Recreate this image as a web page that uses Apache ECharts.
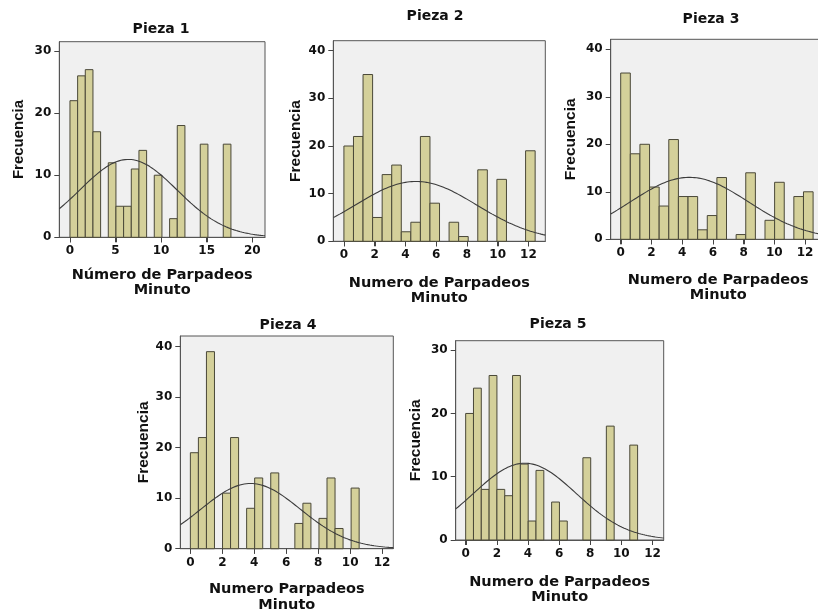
<!DOCTYPE html>
<html>
<head>
<meta charset="utf-8">
<script src="https://cdn.jsdelivr.net/npm/echarts@6/dist/echarts.min.js"></script>
<style>
html,body{margin:0;padding:0;background:#ffffff;overflow:hidden;}
#chart{width:818px;height:614px;}
</style>
</head>
<body>
<div id="chart"></div>
<script>
// ---- Data ----
const titles = ['Pieza 1', 'Pieza 2', 'Pieza 3', 'Pieza 4', 'Pieza 5'];
const xNames = [
  'Número de Parpadeos\nMinuto',
  'Numero de Parpadeos\nMinuto',
  'Numero de Parpadeos\nMinuto',
  'Numero Parpadeos\nMinuto',
  'Numero de Parpadeos\nMinuto'
];
const yName = 'Frecuencia';

// bin counts (one entry per bin, 0 = empty bin)
const counts1 = [22, 26, 27, 17, 0, 12, 5, 5, 11, 14, 0, 10, 0, 3, 18, 0, 0, 15, 0, 0, 15];
const counts2 = [20, 22, 35, 5, 14, 16, 2, 4, 22, 8, 0, 4, 1, 0, 15, 0, 13, 0, 0, 19];
const counts3 = [35, 18, 20, 11, 7, 21, 9, 9, 2, 5, 13, 0, 1, 14, 0, 4, 12, 0, 9, 10];
const counts4 = [19, 22, 39, 0, 11, 22, 0, 8, 14, 0, 15, 0, 0, 5, 9, 0, 6, 14, 4, 0, 12];
const counts5 = [20, 24, 8, 26, 8, 7, 26, 12, 3, 11, 0, 6, 3, 0, 0, 13, 0, 0, 18, 0, 0, 15];

// histogram bin start and width
const binStarts = [0, 0, 0, 0, 0];
const binWidths = [0.841, 0.622, 0.626, 0.503, 0.502];

// fitted normal curve parameters
const fitMeans = [6.41, 4.69, 4.47, 3.77, 3.80];
const fitSds = [5.35, 3.95, 3.83, 3.11, 3.30];

// axis ranges
const xMins = [-1.17, -0.69, -0.65, -0.63, -0.64];
const xMaxs = [21.4, 13.1, 13.34, 12.7, 12.72];
const yMaxs = [31.5, 42.1, 42.1, 42.1, 31.5];

// tick labels
const xTicks1 = [0, 5, 10, 15, 20];
const xTicks2 = [0, 2, 4, 6, 8, 10, 12];
const yTicks30 = [0, 10, 20, 30];
const yTicks40 = [0, 10, 20, 30, 40];

const allCounts = [counts1, counts2, counts3, counts4, counts5];
const allXTicks = [xTicks1, xTicks2, xTicks2, xTicks2, xTicks2];
const allYTicks = [yTicks30, yTicks40, yTicks40, yTicks40, yTicks30];

// ---- Layout (pixels) ----
const layout = [
  {left: 59.3, top: 41.7, width: 205.7, height: 195.6, tx: 161, ty: 22, xGap: 30, yGap: 33, ySize: 15},
  {left: 333.3, top: 40.7, width: 212, height: 200.6, tx: 435, ty: 9, xGap: 34, yGap: 30, ySize: 15.5},
  {left: 610.7, top: 39.3, width: 215, height: 200, tx: 711, ty: 12.5, xGap: 33, yGap: 32, ySize: 15.5},
  {left: 180.3, top: 336, width: 213, height: 212.7, tx: 288, ty: 318, xGap: 33, yGap: 27, ySize: 15.5},
  {left: 455.7, top: 340.7, width: 208, height: 199.3, tx: 558, ty: 317, xGap: 34, yGap: 32, ySize: 15.5}
];

const BAR_FILL = '#d4d09a';
const BAR_EDGE = '#4a4838';
const FRAME = '#555555';
const TICK = '#444444';
const TICK_LEN = 5;
const CURVE = '#3c3c3c';
const TXT = '#111111';
const BOLD_FONT = '"DejaVu Sans", sans-serif';
const NARROW_FONT = '"Liberation Sans", Arial, sans-serif';

const grids = [], xAxes = [], yAxes = [], series = [], titleList = [];

for (let p = 0; p < 5; p++) {
  const L = layout[p];
  grids.push({
    left: L.left, top: L.top, width: L.width, height: L.height,
    show: true, backgroundColor: '#f0f0f0', borderColor: FRAME, borderWidth: 1,
    containLabel: false, outerBoundsMode: 'none'
  });
  titleList.push({
    text: titles[p], left: L.tx, top: L.ty, textAlign: 'center', padding: 0,
    textStyle: {fontFamily: BOLD_FONT, fontWeight: 'bold', fontSize: 14, color: TXT}
  });
  xAxes.push({
    type: 'value', gridIndex: p, min: xMins[p], max: xMaxs[p],
    splitLine: {show: false},
    axisLine: {show: true, onZero: false, lineStyle: {color: FRAME, width: 1}},
    axisTick: {show: true, inside: false, length: TICK_LEN, customValues: allXTicks[p], lineStyle: {color: TICK, width: 1}},
    axisLabel: {customValues: allXTicks[p], margin: 8, fontFamily: BOLD_FONT, fontWeight: 'bold', fontSize: 12, color: TXT},
    name: xNames[p], nameLocation: 'middle', nameGap: L.xGap,
    nameTextStyle: {fontFamily: BOLD_FONT, fontWeight: 'bold', fontSize: 14.5, lineHeight: 15.5, color: TXT}
  });
  yAxes.push({
    type: 'value', gridIndex: p, min: 0, max: yMaxs[p],
    splitLine: {show: false},
    axisLine: {show: true, onZero: false, lineStyle: {color: FRAME, width: 1}},
    axisTick: {show: true, inside: false, length: TICK_LEN, customValues: allYTicks[p], lineStyle: {color: TICK, width: 1}},
    axisLabel: {customValues: allYTicks[p], margin: 8, fontFamily: BOLD_FONT, fontWeight: 'bold', fontSize: 12, color: TXT},
    name: yName, nameLocation: 'middle', nameGap: L.yGap, nameRotate: 90,
    nameTextStyle: {fontFamily: NARROW_FONT, fontWeight: 'bold', fontSize: L.ySize, color: TXT}
  });

  // histogram bars: [binStart, binEnd, count]
  const counts = allCounts[p];
  const barData = [];
  counts.forEach((c, i) => {
    if (c > 0) {
      const x0 = binStarts[p] + i * binWidths[p];
      barData.push([x0, x0 + binWidths[p], c]);
    }
  });
  series.push({
    type: 'custom', xAxisIndex: p, yAxisIndex: p,
    data: barData,
    encode: {x: [0, 1], y: 2},
    renderItem: function (params, api) {
      const a = api.coord([api.value(0), api.value(2)]);
      const b = api.coord([api.value(1), 0]);
      return {
        type: 'rect',
        shape: {x: a[0], y: a[1], width: b[0] - a[0], height: b[1] - a[1]},
        style: {fill: BAR_FILL, stroke: BAR_EDGE, lineWidth: 1}
      };
    },
    silent: true, animation: false
  });

  // x-axis tick marks at the tick values, below the axis line
  series.push({
    type: 'custom', xAxisIndex: p, yAxisIndex: p,
    data: allXTicks[p].map(v => [v, 0]),
    encode: {x: 0, y: 1},
    clip: false,
    renderItem: function (params, api) {
      const pt = api.coord([api.value(0), 0]);
      const x = Math.round(pt[0]) + 0.5;
      return {
        type: 'line',
        shape: {x1: x, y1: pt[1], x2: x, y2: pt[1] + TICK_LEN},
        style: {stroke: TICK, lineWidth: 1}
      };
    },
    silent: true, animation: false
  });

  // fitted normal curve
  const N = counts.reduce((s, v) => s + v, 0);
  const scale = N * binWidths[p] / (fitSds[p] * Math.sqrt(2 * Math.PI));
  const curve = [];
  const steps = 200;
  for (let k = 0; k <= steps; k++) {
    const x = xMins[p] + (xMaxs[p] - xMins[p]) * k / steps;
    const z = (x - fitMeans[p]) / fitSds[p];
    curve.push([x, scale * Math.exp(-0.5 * z * z)]);
  }
  series.push({
    type: 'line', xAxisIndex: p, yAxisIndex: p, data: curve,
    showSymbol: false, symbol: 'none', smooth: false,
    lineStyle: {color: CURVE, width: 1.1}, silent: true, animation: false, z: 3
  });
}

const chart = echarts.init(document.getElementById('chart'), null, {renderer: 'canvas'});
chart.setOption({
  animation: false,
  backgroundColor: '#ffffff',
  title: titleList,
  grid: grids,
  xAxis: xAxes,
  yAxis: yAxes,
  series: series
});
</script>
</body>
</html>
